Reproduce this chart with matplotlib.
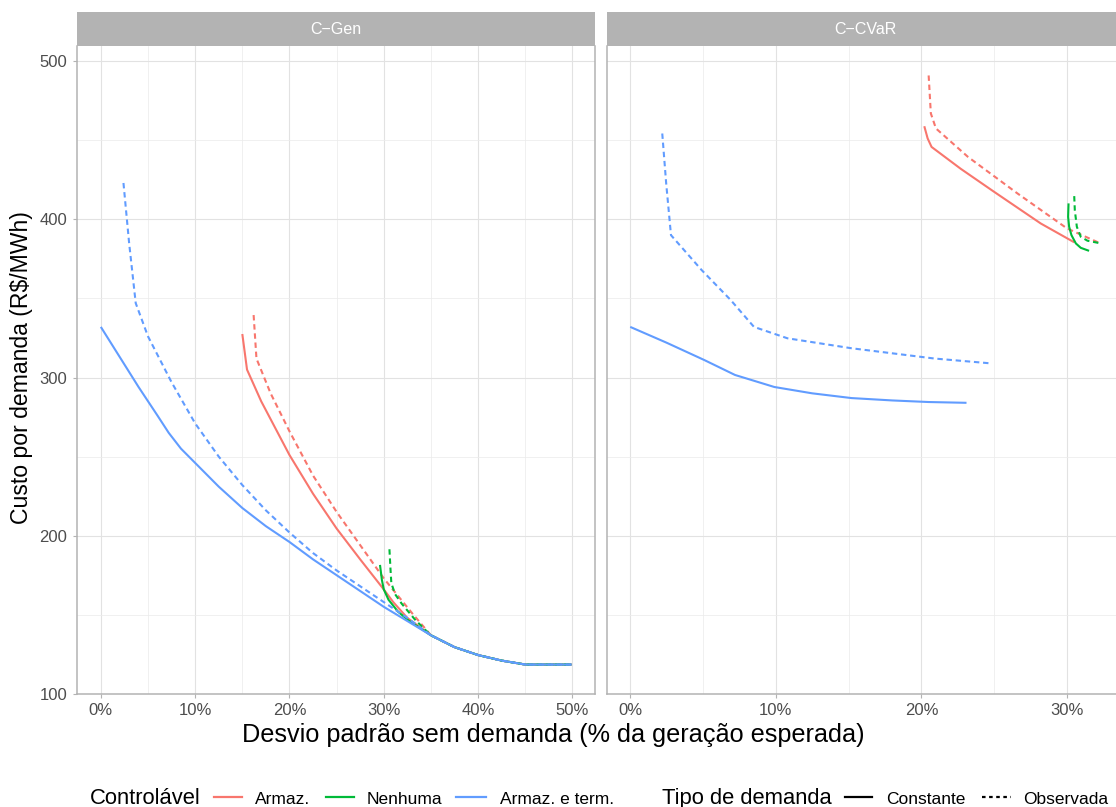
import matplotlib
matplotlib.use("Agg")
import matplotlib.pyplot as plt
from matplotlib.lines import Line2D
from matplotlib.ticker import MultipleLocator, FuncFormatter

plt.rcParams['font.family'] = ['Liberation Sans', 'DejaVu Sans']

# ---- dados ----
# cauda comum do painel C-Gen (todas as curvas convergem)
cauda_x = [35, 37.5, 40, 42.5, 45, 47.5, 49.9]
cauda_y = [137, 129.5, 124.5, 121, 118.5, 118.5, 118.5]

# C-Gen
gen_armaz_const_x = [15.0, 15.5, 17, 20, 22.5, 25, 27.5, 30, 31, 32.5]
gen_armaz_const_y = [327.5, 305, 285, 251, 226.5, 204.5, 185, 166, 158, 148]
gen_armaz_obs_x = [16.2, 16.5, 18, 20, 22.5, 25, 27.5, 30, 31.5, 33]
gen_armaz_obs_y = [339.5, 312, 290, 266, 238, 215, 194, 173, 162, 151]
gen_nenh_const_x = [29.6, 29.8, 30.0, 30.5, 31.5, 32.6]
gen_nenh_const_y = [181.5, 172, 166, 159.5, 152, 146.5]
gen_nenh_obs_x = [30.6, 30.7, 30.8, 31.2, 31.9, 33.3, 34.3]
gen_nenh_obs_y = [191.4, 180, 170, 163, 157, 147, 141]
gen_ambos_const_x = [0, 2, 4, 6, 7.2, 8.5, 10, 12.5, 15, 17.5, 20, 22.5, 25, 27.5, 30, 32.5]
gen_ambos_const_y = [332, 313, 294, 276, 265, 255, 246, 231, 217.5, 206, 196, 185, 175, 165, 155, 146]
gen_ambos_obs_x = [2.4, 3.0, 3.7, 5, 7.5, 10, 12.5, 15, 17.5, 20, 22.5, 25, 27.5, 30, 32.5]
gen_ambos_obs_y = [423, 385, 347, 326, 297, 271, 250, 232, 216, 202, 189, 178, 168, 158, 148]

# C-CVaR
cvar_armaz_const_x = [20.2, 20.43, 20.7, 22.7, 25.0, 28.2, 30.5]
cvar_armaz_const_y = [458.9, 451.2, 445.8, 432, 417.4, 397.4, 385.5]
cvar_armaz_obs_x = [20.5, 20.65, 21.0, 23.2, 26.6, 30.0, 32.3]
cvar_armaz_obs_y = [491, 467, 457.5, 439.5, 416.4, 394.3, 384.8]
cvar_nenh_const_x = [30.11, 30.08, 30.15, 30.31, 30.61, 30.95, 31.52]
cvar_nenh_const_y = [410.1, 401.6, 395.3, 390.0, 384.8, 382.0, 380.1]
cvar_nenh_obs_x = [30.50, 30.54, 30.68, 30.95, 31.41, 32.33]
cvar_nenh_obs_y = [414.7, 405.8, 395.3, 389.0, 386.5, 384.8]
cvar_ambos_const_x = [0, 2.5, 5.1, 7.2, 9.9, 12.5, 15.2, 18, 20.5, 23.1]
cvar_ambos_const_y = [332, 322, 311, 301.6, 294, 290, 287, 285.5, 284.5, 284]
cvar_ambos_obs_x = [2.2, 2.47, 2.8, 4.9, 6.9, 8.5, 10.8, 15.2, 20.9, 24.7]
cvar_ambos_obs_y = [454.3, 422.7, 390, 368, 349, 332, 324.8, 318.5, 312, 309]

controlavel = ["Armaz.", "Nenhuma", "Armaz. e term."]
tipos = ["Constante", "Observada"]
paineis = ["C\u2212Gen", "C\u2212CVaR"]

cores = {"Armaz.": "#F8766D", "Nenhuma": "#00BA38", "Armaz. e term.": "#619CFF"}
DASH = (0, (2.6, 1.8))
estilos = {"Constante": "-", "Observada": DASH}
estilos_chave = {"Constante": "-", "Observada": (0, (1.6, 1.6))}

series = {
    paineis[0]: [
        ("Armaz.", "Constante", gen_armaz_const_x + cauda_x, gen_armaz_const_y + cauda_y),
        ("Armaz.", "Observada", gen_armaz_obs_x + cauda_x, gen_armaz_obs_y + cauda_y),
        ("Nenhuma", "Constante", gen_nenh_const_x + cauda_x, gen_nenh_const_y + cauda_y),
        ("Nenhuma", "Observada", gen_nenh_obs_x + cauda_x, gen_nenh_obs_y + cauda_y),
        ("Armaz. e term.", "Constante", gen_ambos_const_x + cauda_x, gen_ambos_const_y + cauda_y),
        ("Armaz. e term.", "Observada", gen_ambos_obs_x + cauda_x, gen_ambos_obs_y + cauda_y),
    ],
    paineis[1]: [
        ("Armaz.", "Constante", cvar_armaz_const_x, cvar_armaz_const_y),
        ("Armaz.", "Observada", cvar_armaz_obs_x, cvar_armaz_obs_y),
        ("Nenhuma", "Constante", cvar_nenh_const_x, cvar_nenh_const_y),
        ("Nenhuma", "Observada", cvar_nenh_obs_x, cvar_nenh_obs_y),
        ("Armaz. e term.", "Constante", cvar_ambos_const_x, cvar_ambos_const_y),
        ("Armaz. e term.", "Observada", cvar_ambos_obs_x, cvar_ambos_obs_y),
    ],
}

# ---- figura ----
W, H = 1116, 807
fig = plt.figure(figsize=(W / 100, H / 100), dpi=100)


def rect(x0, y0, x1, y1):
    return [x0 / W, 1 - y1 / H, (x1 - x0) / W, (y1 - y0) / H]


def expand(vals):
    lo, hi = min(vals), max(vals)
    r = hi - lo
    return lo - 0.05 * r, hi + 0.05 * r


todos_y = [v for p in paineis for s in series[p] for v in s[3]]
ylim = expand(todos_y)

caixas = [(77.3, 46, 595, 694), (606.7, 46, 1124.4, 694)]
BORDA = "#b3b3b3"

for i, painel in enumerate(paineis):
    x0, y0, x1, y1 = caixas[i]
    ax = fig.add_axes(rect(x0, y0, x1, y1))
    for ctrl, tipo, xs, ys in series[painel]:
        ax.plot(xs, ys, color=cores[ctrl], linestyle=estilos[tipo], lw=1.5,
                solid_capstyle="butt", dash_capstyle="butt", zorder=3)
    todos_x = [v for s in series[painel] for v in s[2]]
    ax.set_xlim(expand(todos_x))
    ax.set_ylim(ylim)

    ax.xaxis.set_major_locator(MultipleLocator(10))
    ax.xaxis.set_minor_locator(MultipleLocator(5))
    ax.yaxis.set_major_locator(MultipleLocator(100))
    ax.yaxis.set_minor_locator(MultipleLocator(50))
    ax.xaxis.set_major_formatter(FuncFormatter(lambda v, p: f"{v:.0f}%"))
    ax.grid(which="major", color="#e2e2e2", lw=0.8, zorder=0)
    ax.grid(which="minor", color="#ececec", lw=0.55, zorder=0)
    ax.set_axisbelow(True)

    for lado in ["left", "right", "bottom"]:
        ax.spines[lado].set_color(BORDA)
        ax.spines[lado].set_linewidth(1.1)
    ax.spines["top"].set_visible(False)

    ax.tick_params(which="major", length=3.2, width=0.8, color=BORDA,
                   labelsize=12, labelcolor="#4d4d4d", pad=3)
    ax.tick_params(which="minor", length=0)
    ax.tick_params(axis="y", pad=4)
    if i == 1:
        ax.tick_params(axis="y", which="both", left=False, labelleft=False)

    # faixa do painel
    sx = fig.add_axes(rect(x0, 12, x1, y0))
    sx.set_facecolor("#b3b3b3")
    sx.set_xticks([])
    sx.set_yticks([])
    for s in sx.spines.values():
        s.set_visible(False)
    sx.text(0.5, 0.5, painel, color="white", fontsize=11.5,
            ha="center", va="center", transform=sx.transAxes)

# títulos dos eixos
fig.text(553 / W, 1 - 735 / H, "Desvio padrão sem demanda (% da geração esperada)",
         fontsize=18.2, ha="center", va="center")
fig.text(22 / W, 1 - 368 / H, "Custo por demanda (R$/MWh)", fontsize=16.6,
         rotation=90, ha="center", va="center")

# legenda (inferior)
base = 1 - 804 / H
meio = 1 - 797 / H
fig.text(90 / W, base, "Controlável", fontsize=15.8, ha="left", va="baseline")
chaves_ctrl = [(213.5, 242, 255), (326, 354, 367), (455.6, 486, 500)]
for ctrl, (k0, k1, tx) in zip(controlavel, chaves_ctrl):
    fig.add_artist(Line2D([k0 / W, k1 / W], [meio, meio], color=cores[ctrl], lw=1.6,
                          transform=fig.transFigure))
    fig.text(tx / W, base, ctrl, fontsize=12.5, ha="left", va="baseline")

fig.text(662 / W, base, "Tipo de demanda", fontsize=15.8, ha="left", va="baseline")
chaves_tipo = [(845, 872, 886), (982, 1011, 1023)]
for tipo, (k0, k1, tx) in zip(tipos, chaves_tipo):
    fig.add_artist(Line2D([k0 / W, k1 / W], [meio, meio], color="black", lw=1.6,
                          linestyle=estilos_chave[tipo], transform=fig.transFigure))
    fig.text(tx / W, base, tipo, fontsize=12.5, ha="left", va="baseline")

fig.savefig("out.png", dpi=100)
